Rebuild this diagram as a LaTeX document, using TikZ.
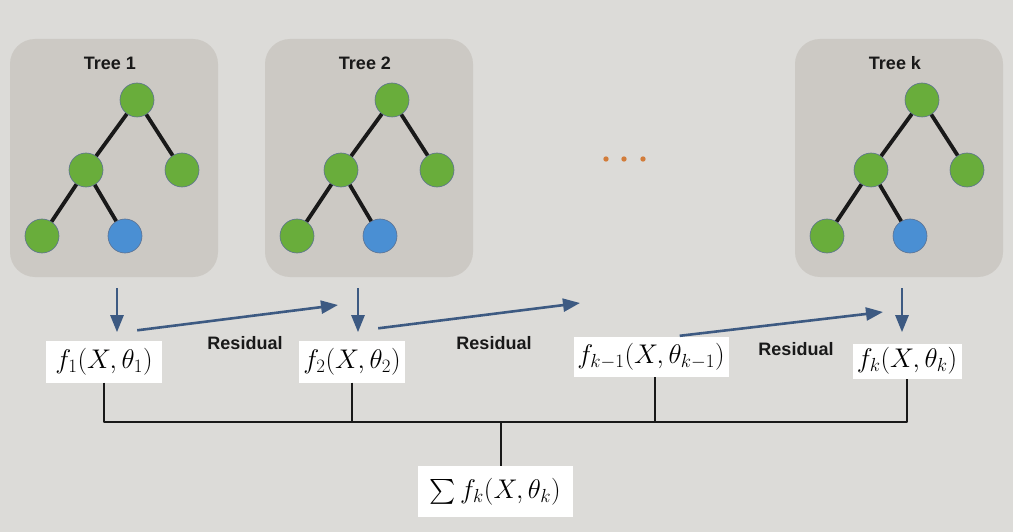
\RequirePackage{fix-cm}
\documentclass[tikz,border=0pt]{standalone}
\usepackage{exscale}
\usepackage{fontspec}
\usetikzlibrary{arrows.meta}
\newfontfamily\labfont{Liberation Sans}
\definecolor{bg}{HTML}{DCDBD8}
\definecolor{panel}{HTML}{CCC9C4}
\definecolor{leafgreen}{HTML}{69AD3B}
\definecolor{leafblue}{HTML}{4A8FD3}
\definecolor{rim}{HTML}{5B7191}
\definecolor{arrowblue}{HTML}{3D5A82}
\definecolor{dotorange}{HTML}{D27C3A}
\tikzset{
  treebox/.style={fill=panel, rounded corners=25pt, minimum width=208pt, minimum height=238pt, inner sep=0pt},
  leaf/.style={circle, draw=rim, line width=0.6pt, minimum size=34pt, inner sep=0pt, fill=leafgreen},
  branch/.style={line width=3.8pt, black!90},
  flow/.style={draw=arrowblue, line width=2.6pt, -{Triangle[length=17pt,width=13pt]}},
  fbox/.style={fill=white, inner sep=0pt, minimum height=42pt, font=\fontsize{27}{32}\selectfont},
  title/.style={font=\labfont\bfseries\fontsize{18}{22}\selectfont, text=black!90},
  bus/.style={line width=2.5pt, black!90},
}
\begin{document}
\begin{tikzpicture}[x=1pt, y=-1pt, line join=round]
	\fill[bg] (0,0) rectangle (1013,532);
	\useasboundingbox (0,0) rectangle (1013,532);
	% the trees
	\foreach \px/\t/\dx in {10/1/3, 265/2/-11, 795/k/3} {
		\node[treebox] (p\t) at (\px+104,158) {};
		\node[title] at (\px+100,63) {Tree \t};
		\begin{scope}[shift={(\px,0)}]
			\node[leaf] (r\t) at (127,100) {};
			\node[leaf] (a\t) at (76,170) {};
			\node[leaf] (b\t) at (172,170) {};
			\node[leaf] (c\t) at (32,236) {};
			\node[leaf, fill=leafblue] (d\t) at (115,236) {};
		\end{scope}
		\draw[branch] (r\t)--(a\t) (r\t)--(b\t) (a\t)--(c\t) (a\t)--(d\t);
		\draw[flow] ([shift={(\dx,11)}]p\t.south) -- ([shift={(\dx,55)}]p\t.south);
	}
	\foreach \x in {606,624,643}
		\fill[dotorange] (\x,159) circle (2.7pt);
	% outputs
	\node[fbox, minimum width=116pt] (f1) at (104,361.5) {$f_1(X,\theta_1)$};
	\node[fbox, minimum width=106pt] (f2) at (352,361.5) {$f_2(X,\theta_2)$};
	\node[fbox, minimum width=155pt, minimum height=40pt] (fkm) at (651,357) {$f_{k-1}(X,\theta_{k-1})$};
	\node[fbox, minimum width=109pt, minimum height=35pt] (fk) at (907,361) {$f_k(X,\theta_k)$};
	\node[fbox, minimum width=155pt, minimum height=51pt] (sum) at (495,491.5) {$\sum f_k(X,\theta_k)$};
	% residuals
	\coordinate (e1) at (338,305);
	\coordinate (e2) at (580,303);
	\coordinate (e3) at (883,312);
	\draw[flow] ([shift={(-25,-10)}]f1.north east) -- (e1);
	\draw[flow] ([shift={(-27,-12)}]f2.north east) -- (e2);
	\draw[flow] ([shift={(-49,-1)}]fkm.north east) -- (e3);
	\foreach \x/\y in {245/343, 494/343, 796/349}
		\node[title] at (\x,\y) {Residual};
	% sum
	\coordinate (bus) at (0,422);
	\draw[bus] (f1.south) |- (fk.south |- bus) -- (fk.south);
	\draw[bus] (f2.south) -- (f2.south |- bus);
	\draw[bus] ([xshift=4pt]fkm.south) -- ([xshift=4pt]fkm.south |- bus);
	\draw[bus] ([xshift=6pt]sum.north) -- ([xshift=6pt]sum.north |- bus);
\end{tikzpicture}
\end{document}
